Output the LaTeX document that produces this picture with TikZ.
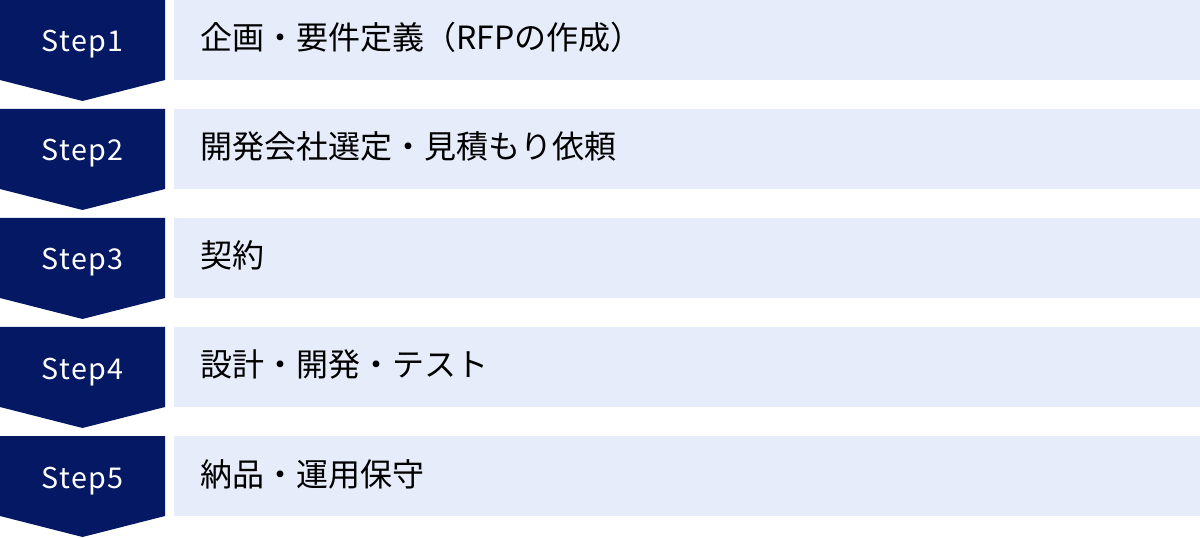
\documentclass[tikz,border=0pt]{standalone}
\usepackage{fontspec}
\setmainfont{Noto Sans CJK JP}
\newfontfamily\stepfont[LetterSpace=5]{Noto Sans CJK JP}

\begin{document}
\begin{tikzpicture}[x=0.75pt, y=-0.75pt]

	\def\wbadge{165}
	\def\hbadge{80}
	\def\tip{21}
	\def\xbar{174}
	\def\xmax{1200}
	\def\xtext{200}

	% Colours
	\colorlet{badgecolor}{rgb,255:red,4;green,24;blue,100}
	\colorlet{barcolor}{rgb,255:red,230;green,236;blue,250}

	% Styles
	\tikzstyle{steplabel}=[text=white, inner sep=0pt, anchor=base,
		font=\stepfont\fontsize{21.5pt}{26pt}\selectfont]
	\tikzstyle{tasklabel}=[text=black, inner sep=0pt, anchor=base west,
		font=\fontsize{24pt}{28pt}\selectfont]

	\useasboundingbox (0, 0) rectangle (\xmax, 538);

	%== Step1 =================================================================
	\def\y{0}
	\fill[badgecolor] (0, \y) -- (\wbadge, \y) -- (\wbadge, \y+\hbadge)
		-- (\wbadge/2, \y+\hbadge+\tip) -- (0, \y+\hbadge) -- cycle;
	\fill[barcolor] (\xbar, \y) rectangle (\xmax, \y+\hbadge);
	\node[steplabel] (step1) at (\wbadge/2, \y+52) {Step1};
	\node[tasklabel] (task1) at (\xtext, \y+50) {企画・要件定義（RFPの作成）};

	%== Step2 =================================================================
	\def\y{109}
	\fill[badgecolor] (0, \y) -- (\wbadge, \y) -- (\wbadge, \y+\hbadge)
		-- (\wbadge/2, \y+\hbadge+\tip) -- (0, \y+\hbadge) -- cycle;
	\fill[barcolor] (\xbar, \y) rectangle (\xmax, \y+\hbadge);
	\node[steplabel] (step2) at (\wbadge/2, \y+52) {Step2};
	\node[tasklabel] (task2) at (\xtext, \y+50) {開発会社選定・見積もり依頼};

	%== Step3 =================================================================
	\def\y{218}
	\fill[badgecolor] (0, \y) -- (\wbadge, \y) -- (\wbadge, \y+\hbadge)
		-- (\wbadge/2, \y+\hbadge+\tip) -- (0, \y+\hbadge) -- cycle;
	\fill[barcolor] (\xbar, \y) rectangle (\xmax, \y+\hbadge);
	\node[steplabel] (step3) at (\wbadge/2, \y+52) {Step3};
	\node[tasklabel] (task3) at (\xtext, \y+50) {契約};

	%== Step4 =================================================================
	\def\y{327}
	\fill[badgecolor] (0, \y) -- (\wbadge, \y) -- (\wbadge, \y+\hbadge)
		-- (\wbadge/2, \y+\hbadge+\tip) -- (0, \y+\hbadge) -- cycle;
	\fill[barcolor] (\xbar, \y) rectangle (\xmax, \y+\hbadge);
	\node[steplabel] (step4) at (\wbadge/2, \y+52) {Step4};
	\node[tasklabel] (task4) at (\xtext, \y+50) {設計・開発・テスト};

	%== Step5 =================================================================
	\def\y{436}
	\fill[badgecolor] (0, \y) -- (\wbadge, \y) -- (\wbadge, \y+\hbadge)
		-- (\wbadge/2, \y+\hbadge+\tip) -- (0, \y+\hbadge) -- cycle;
	\fill[barcolor] (\xbar, \y) rectangle (\xmax, \y+\hbadge);
	\node[steplabel] (step5) at (\wbadge/2, \y+52) {Step5};
	\node[tasklabel] (task5) at (\xtext, \y+50) {納品・運用保守};

\end{tikzpicture}
\end{document}
